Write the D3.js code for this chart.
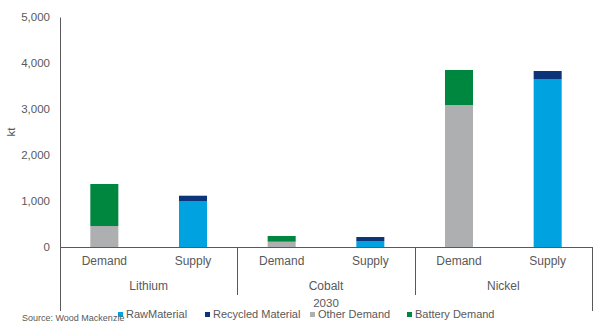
<!DOCTYPE html>
<html lang="en">
<head>
  <meta charset="utf-8">
  <title>Battery metals 2030</title>
  <script src="https://d3js.org/d3.v7.min.js"></script>
  <style>
    body { margin: 0; background: #fff; }
    svg text { font-family: "Liberation Sans", Arial, sans-serif; fill: #595959; }
  </style>
</head>
<body>
<svg width="597" height="326"></svg>
<script>
// metals and the two bars drawn for each
var metals = ["Lithium", "Cobalt", "Nickel"];
var sides = ["Demand", "Supply"];
var yTicks = [0, 1000, 2000, 3000, 4000, 5000];

// stacked series (kt), one value per bar: Li D, Li S, Co D, Co S, Ni D, Ni S
var rawMaterial      = [0, 1000, 0, 130, 0, 3652];
var recycledMaterial = [0, 115, 0, 87, 0, 174];
var otherDemand      = [456, 0, 115, 0, 3087, 0];
var batteryDemand    = [914, 0, 125, 0, 761, 0];

var seriesNames = ["RawMaterial", "Recycled Material", "Other Demand", "Battery Demand"];
var colors = ["#00a3e0", "#0c3479", "#aeafb1", "#00873f"];

var svg = d3.select("svg");
var plotLeft = 60, plotRight = 592, plotTop = 17, plotBase = 247;

// one row per bar
var bars = [];
metals.forEach(function(m) {
  sides.forEach(function(s) { bars.push({ key: m + "|" + s, metal: m, side: s }); });
});
bars.forEach(function(b, i) {
  b.RawMaterial = rawMaterial[i];
  b["Recycled Material"] = recycledMaterial[i];
  b["Other Demand"] = otherDemand[i];
  b["Battery Demand"] = batteryDemand[i];
});

var x = d3.scaleBand()
    .domain(bars.map(function(d) { return d.key; }))
    .range([plotLeft, plotRight])
    .paddingInner(0.684)
    .paddingOuter(0.342);

var xGroup = d3.scaleBand().domain(metals).range([plotLeft, plotRight]);

var y = d3.scaleLinear().domain([0, 5000]).range([plotBase, plotTop]);

// stack: raw/other at the bottom, recycled/battery on top
var layers = d3.stack().keys(seriesNames)(bars);

svg.append("g").selectAll("g")
  .data(layers)
  .enter().append("g")
    .attr("fill", function(d, i) { return colors[i]; })
  .selectAll("rect")
  .data(function(d) { return d; })
  .enter().append("rect")
    .attr("x", function(d) { return x(d.data.key); })
    .attr("width", x.bandwidth())
    .attr("y", function(d) { return y(d[1]); })
    .attr("height", function(d) { return y(d[0]) - y(d[1]); });

// y axis
var yAxis = svg.append("g")
    .attr("transform", "translate(" + plotLeft + ",0)")
    .call(d3.axisLeft(y).tickValues(yTicks).tickSize(0).tickPadding(10).tickFormat(d3.format(",")));
yAxis.select(".domain").attr("stroke", "#595959");
yAxis.selectAll("text")
    .style("font-size", "11.5px")
    .style("font-family", "'Liberation Sans', Arial, sans-serif")
    .attr("fill", "#595959");

svg.append("text")
    .attr("transform", "translate(15," + (plotTop + plotBase) / 2 + ") rotate(-90)")
    .attr("text-anchor", "middle")
    .style("font-size", "11.5px")
    .text("kt");

// baseline and group dividers
svg.append("line")
    .attr("x1", plotLeft).attr("x2", plotRight).attr("y1", plotBase + 0.5).attr("y2", plotBase + 0.5)
    .attr("stroke", "#595959");

var edges = metals.map(function(m) { return xGroup(m); }).concat([plotRight]);
svg.append("g").selectAll("line")
  .data(edges)
  .enter().append("line")
    .attr("x1", function(d) { return Math.round(d) + 0.5; })
    .attr("x2", function(d) { return Math.round(d) + 0.5; })
    .attr("y1", plotBase)
    .attr("y2", function(d, i) { return (i === 0 || i === edges.length - 1) ? 311 : 295; })
    .attr("stroke", "#595959");

// bar and group labels
svg.append("g").selectAll("text")
  .data(bars)
  .enter().append("text")
    .attr("x", function(d) { return x(d.key) + x.bandwidth() / 2; })
    .attr("y", 265)
    .attr("text-anchor", "middle")
    .style("font-size", "12px")
    .text(function(d) { return d.side; });

svg.append("g").selectAll("text")
  .data(metals)
  .enter().append("text")
    .attr("x", function(d) { return xGroup(d) + xGroup.bandwidth() / 2; })
    .attr("y", 290)
    .attr("text-anchor", "middle")
    .style("font-size", "12px")
    .text(function(d) { return d; });

svg.append("text")
    .attr("x", 326).attr("y", 307)
    .attr("text-anchor", "middle")
    .style("font-size", "11.5px")
    .text("2030");

// legend
var legendX = [118, 205, 310, 407];
var legend = svg.append("g").selectAll("g")
  .data(seriesNames)
  .enter().append("g")
    .attr("transform", function(d, i) { return "translate(" + legendX[i] + ",312)"; });
legend.append("rect")
    .attr("width", 5).attr("height", 5)
    .attr("fill", function(d, i) { return colors[i]; });
legend.append("text")
    .attr("x", 8).attr("y", 6)
    .style("font-size", "11px")
    .text(function(d) { return d; });

svg.append("text")
    .attr("x", 22).attr("y", 321)
    .style("font-size", "9px")
    .text("Source: Wood Mackenzie");
</script>
</body>
</html>
